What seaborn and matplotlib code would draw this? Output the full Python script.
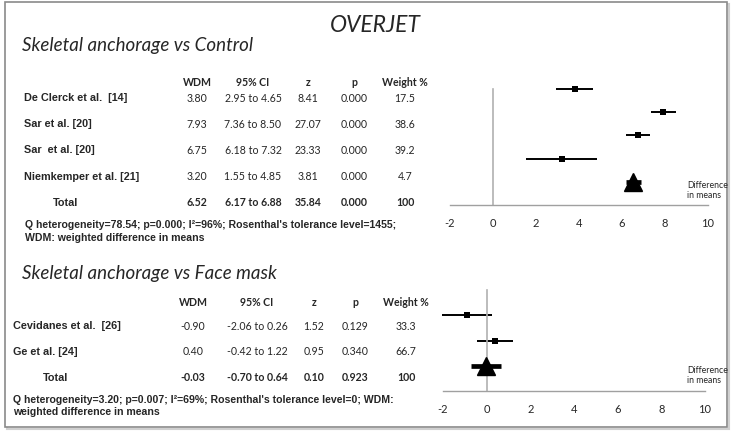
import pandas as pd
import numpy as np
import matplotlib.pyplot as plt
import seaborn as sns
from matplotlib.patches import Rectangle


# skeletal anchorage vs control
CTRL_STUDIES = ['De Clerck et al.  [14]', 'Sar et al. [20]', 'Sar  et al. [20]', 'Niemkemper et al. [21]']
CTRL_WDM = [3.80, 7.93, 6.75, 3.20]
CTRL_LOW = [2.95, 7.36, 6.18, 1.55]
CTRL_HIGH = [4.65, 8.50, 7.32, 4.85]
CTRL_Z = ['8.41', '27.07', '23.33', '3.81']
CTRL_P = ['0.000', '0.000', '0.000', '0.000']
CTRL_WEIGHT = ['17.5', '38.6', '39.2', '4.7']
CTRL_TOTAL = [6.52, 6.17, 6.88]
CTRL_TOTAL_TXT = ['6.52', '6.17 to 6.88', '35.84', '0.000', '100']

# skeletal anchorage vs face mask
FM_STUDIES = ['Cevidanes et al.  [26]', 'Ge et al. [24]']
FM_WDM = [-0.90, 0.40]
FM_LOW = [-2.06, -0.42]
FM_HIGH = [0.26, 1.22]
FM_Z = ['1.52', '0.95']
FM_P = ['0.129', '0.340']
FM_WEIGHT = ['33.3', '66.7']
FM_TOTAL = [-0.03, -0.70, 0.64]
FM_TOTAL_TXT = ['-0.03', '-0.70 to 0.64', '0.10', '0.923', '100']

HEADERS = ['WDM', '95% CI', 'z', 'p', 'Weight %']
X_TICKS = [-2, 0, 2, 4, 6, 8, 10]

W, H = 733, 435
NUM_FONT = 'Lato'
NAME_FONT = 'Liberation Sans'


def px(x, y):
    return x / W, 1 - y / H


def put(x, y, s, **kw):
    fx, fy = px(x, y)
    kw.setdefault('va', 'center')
    return fig.text(fx, fy, s, **kw)


def draw_forest(ax, wdm, low, high, total, y_top):
    # studies from top down, pooled estimate on row 1
    n = len(wdm)
    rows = np.arange(n + 1, 1, -1)
    df = pd.DataFrame({'wdm': wdm, 'row': rows})
    ax.hlines(rows, low, high, color='black', lw=1.4, zorder=2, clip_on=False)
    sns.scatterplot(data=df, x='wdm', y='row', marker='s', s=14, color='black',
                    edgecolor='black', linewidth=0, ax=ax, zorder=3, clip_on=False)
    ax.hlines(1, total[1], total[2], color='black', lw=3.4, zorder=2)
    ax.plot([total[0]], [1], marker='^', markersize=13, color='black', zorder=3)

    ax.set_xlim(-2, 10)
    ax.set_ylim(0, y_top)
    ax.set_xticks(X_TICKS)
    ax.set_xticklabels([str(t) for t in X_TICKS], fontsize=8, family=NUM_FONT)
    ax.set_xlabel('')
    ax.set_ylabel('')
    ax.spines['top'].set_visible(False)
    ax.spines['right'].set_visible(False)
    ax.spines['left'].set_position(('data', 0))
    ax.spines['left'].set_color('#b0b0b0')
    ax.spines['bottom'].set_color('#a0a0a0')
    ax.spines['left'].set_linewidth(1.2)
    ax.spines['bottom'].set_linewidth(1.0)
    ax.tick_params(axis='x', direction='out', length=3, color='#a0a0a0', pad=6)
    ax.tick_params(axis='y', direction='out', length=3, color='#b0b0b0', labelleft=False)
    ax.patch.set_alpha(0)


def draw_table(y_head, y_rows, y_total, cols, name_x, total_x, studies, wdm, low, high,
               z, p, weight, total_txt):
    for cx, h in zip(cols, HEADERS):
        put(cx, y_head, h, ha='center', fontsize=7.6, family=NUM_FONT, fontweight='bold')
    for i, name in enumerate(studies):
        y = y_rows[i]
        put(name_x, y, name, ha='left', fontsize=7.8, family=NAME_FONT, fontweight='bold')
        vals = [f'{wdm[i]:.2f}', f'{low[i]:.2f} to {high[i]:.2f}', z[i], p[i], weight[i]]
        for cx, v in zip(cols, vals):
            put(cx, y, v, ha='center', fontsize=7.6, family=NUM_FONT)
    put(total_x, y_total, 'Total', ha='center', fontsize=7.8, family=NAME_FONT, fontweight='bold')
    for cx, v in zip(cols, total_txt):
        put(cx, y_total, v, ha='center', fontsize=7.6, family=NUM_FONT, fontweight='bold')


sns.set_style('white')
fig = plt.figure(figsize=(W / 100, H / 100), dpi=100)

# frame with a little shadow
fig.patches.append(Rectangle(px(7, 430), 722 / W, 425 / H, transform=fig.transFigure,
                             facecolor='none', edgecolor='#d0d0d0', lw=1.5, zorder=-2))
fig.patches.append(Rectangle(px(5, 428), 722 / W, 425 / H, transform=fig.transFigure,
                             facecolor='white', edgecolor='#8a8a8a', lw=1.2, zorder=-1))

put(375, 25, 'OVERJET', ha='center', fontsize=16.5, family=NUM_FONT, style='italic')

# top block
put(22, 45, 'Skeletal anchorage vs Control', ha='left', fontsize=13.5, family=NUM_FONT, style='italic')
draw_table(83, [98, 124, 150, 177], 203, [197, 253, 308, 354, 405], 24, 66,
           CTRL_STUDIES, CTRL_WDM, CTRL_LOW, CTRL_HIGH, CTRL_Z, CTRL_P, CTRL_WEIGHT, CTRL_TOTAL_TXT)
put(25, 225, "Q heterogeneity=78.54; p=0.000; I\u00b2=96%; Rosenthal's tolerance level=1455;",
    ha='left', fontsize=7.6, family=NAME_FONT, fontweight='bold')
put(25, 238, 'WDM: weighted difference in means', ha='left', fontsize=7.6, family=NAME_FONT,
    fontweight='bold')

ax1 = fig.add_axes([450 / W, 1 - 206 / H, 258 / W, 116 / H])
draw_forest(ax1, CTRL_WDM, CTRL_LOW, CTRL_HIGH, CTRL_TOTAL, 5)
ax1.set_yticks([1, 2, 3, 4, 5])
put(687, 186, 'Difference', ha='left', fontsize=6.3, family=NUM_FONT)
put(687, 196, 'in means', ha='left', fontsize=6.3, family=NUM_FONT)

# bottom block
put(22, 273, 'Skeletal anchorage vs Face mask', ha='left', fontsize=13.5, family=NUM_FONT, style='italic')
draw_table(302, [326, 352], 378, [193, 257, 314, 355, 406], 13, 56,
           FM_STUDIES, FM_WDM, FM_LOW, FM_HIGH, FM_Z, FM_P, FM_WEIGHT, FM_TOTAL_TXT)
put(13, 400, "Q heterogeneity=3.20; p=0.007; I\u00b2=69%; Rosenthal's tolerance level=0; WDM:",
    ha='left', fontsize=7.6, family=NAME_FONT, fontweight='bold')
put(13, 412, 'weighted difference in means', ha='left', fontsize=7.6, family=NAME_FONT,
    fontweight='bold')

ax2 = fig.add_axes([443 / W, 1 - 392 / H, 262 / W, 101 / H])
draw_forest(ax2, FM_WDM, FM_LOW, FM_HIGH, FM_TOTAL, 4)
ax2.set_yticks([4])
put(687, 371, 'Difference', ha='left', fontsize=6.3, family=NUM_FONT)
put(687, 381, 'in means', ha='left', fontsize=6.3, family=NUM_FONT)

fig.savefig('out.png', dpi=100)
